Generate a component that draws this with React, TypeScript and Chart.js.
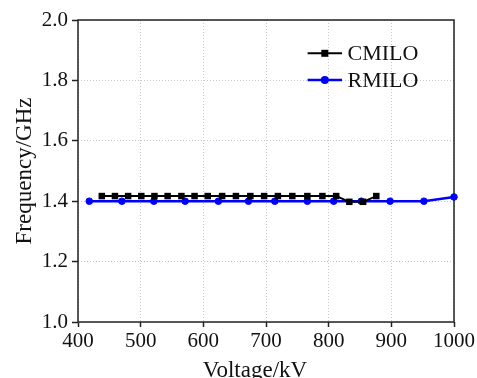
import React, { useEffect, useRef } from 'react';
import { Chart, registerables } from 'chart.js';

Chart.register(...registerables);

// CMILO series (black squares)
const cmiloVoltage = [438, 459, 480, 501, 522, 543, 565, 586, 607, 630, 652, 675, 697, 719, 742, 766, 790, 812, 833, 855, 876];
const cmiloFrequency = [1.417, 1.417, 1.417, 1.417, 1.417, 1.417, 1.417, 1.417, 1.417, 1.417, 1.417, 1.417, 1.417, 1.417, 1.417, 1.417, 1.417, 1.417, 1.398, 1.398, 1.417];

// RMILO series (blue circles)
const rmiloVoltage = [418, 470, 521, 571, 624, 672, 714, 766, 808, 852, 898, 952, 1000];
const rmiloFrequency = [1.4, 1.4, 1.4, 1.4, 1.4, 1.4, 1.4, 1.4, 1.4, 1.4, 1.4, 1.4, 1.414];

const seriesLabels = ['CMILO', 'RMILO'];
const xRange = [400, 1000];
const xStep = 100;
const yRange = [1.0, 2.0];
const yStep = 0.2;
const xTitle = 'Voltage/kV';
const yTitle = 'Frequency/GHz';

const FONT = '"Liberation Serif", "Times New Roman", serif';

const decorPlugin = {
  id: 'decor',
  beforeDatasetsDraw(chart: any) {
    const { ctx, chartArea: a } = chart;
    ctx.save();
    ctx.strokeStyle = '#222';
    ctx.lineWidth = 1.5;
    ctx.strokeRect(a.left, a.top, a.right - a.left, a.bottom - a.top);
    ctx.restore();
  },
  afterDraw(chart: any) {
    const { ctx, chartArea: a } = chart;
    ctx.save();
    // axis titles
    ctx.fillStyle = '#111';
    ctx.font = `23px ${FONT}`;
    ctx.textAlign = 'center';
    ctx.textBaseline = 'middle';
    ctx.fillText(xTitle, (a.left + a.right) / 2 - 11, 371);
    ctx.save();
    ctx.translate(25, (a.top + a.bottom) / 2);
    ctx.rotate(-Math.PI / 2);
    ctx.fillText(yTitle, 0, 0);
    ctx.restore();

    // legend
    chart.data.datasets.forEach((ds: any, i: number) => {
      const y = a.top + 33.3 + i * 26.7;
      const x0 = a.left + 229.6;
      const x1 = a.left + 264;
      ctx.strokeStyle = ds.borderColor;
      ctx.lineWidth = ds.borderWidth;
      ctx.beginPath();
      ctx.moveTo(x0, y);
      ctx.lineTo(x1, y);
      ctx.stroke();
      const cx = (x0 + x1) / 2;
      ctx.fillStyle = ds.backgroundColor;
      if (ds.pointStyle === 'rect') {
        ctx.fillRect(cx - 3.5, y - 3.5, 7, 7);
      } else {
        ctx.beginPath();
        ctx.arc(cx, y, 4, 0, Math.PI * 2);
        ctx.fill();
      }
      ctx.fillStyle = '#111';
      ctx.font = `22px ${FONT}`;
      ctx.textAlign = 'left';
      ctx.textBaseline = 'middle';
      ctx.fillText(ds.label, a.left + 269.5, y + 1);
    });
    ctx.restore();
  },
};

export default function App() {
  const ref = useRef<HTMLCanvasElement>(null);
  useEffect(() => {
    if (!ref.current) return;
    const chart = new Chart(ref.current, {
      type: 'line',
      data: {
        datasets: [
          {
            label: seriesLabels[0],
            data: cmiloVoltage.map((v, i) => ({ x: v, y: cmiloFrequency[i] })),
            borderColor: '#000000',
            backgroundColor: '#000000',
            borderWidth: 2,
            pointStyle: 'rect',
            pointRadius: 4.6,
            pointBorderWidth: 0,
            tension: 0,
            clip: false,
          } as any,
          {
            label: seriesLabels[1],
            data: rmiloVoltage.map((v, i) => ({ x: v, y: rmiloFrequency[i] })),
            borderColor: '#0000ff',
            backgroundColor: '#0000ff',
            borderWidth: 2.5,
            pointStyle: 'circle',
            pointRadius: 3.3,
            pointBorderWidth: 1,
            tension: 0,
            clip: false,
          } as any,
        ],
      },
      options: {
        animation: false,
        responsive: false,
        devicePixelRatio: 1,
        layout: { padding: { left: 0, right: 23, top: 20, bottom: 0 } },
        plugins: { legend: { display: false }, tooltip: { enabled: false } },
        scales: {
          x: {
            type: 'linear',
            min: xRange[0],
            max: xRange[1],
            afterFit: (s: any) => { s.height = 56; },
            ticks: {
              stepSize: xStep,
              color: '#111',
              font: { family: FONT, size: 21 },
              padding: 2,
              maxRotation: 0,
              callback: (v: any) => String(v),
            },
            grid: {
              color: '#c8c8c8',
              lineWidth: 1,
              tickLength: 5,
              tickColor: '#222',
              tickBorderDash: [],
              tickWidth: 1.5,
            } as any,
            border: { display: false, dash: [1, 2] },
          },
          y: {
            type: 'linear',
            min: yRange[0],
            max: yRange[1],
            afterFit: (s: any) => { s.width = 78; },
            ticks: {
              stepSize: yStep,
              color: '#111',
              font: { family: FONT, size: 21 },
              padding: 4,
              callback: (v: any) => Number(v).toFixed(1),
            },
            grid: {
              color: '#c8c8c8',
              lineWidth: 1,
              tickLength: 6,
              tickColor: '#222',
              tickBorderDash: [],
              tickWidth: 1.5,
            } as any,
            border: { display: false, dash: [1, 2] },
          },
        },
      },
      plugins: [decorPlugin],
    });
    return () => chart.destroy();
  }, []);
  return (
    <div style={{ position: 'absolute', left: 0, top: 0, width: 477, height: 378, background: '#fff' }}>
      <canvas ref={ref} width={477} height={378} />
    </div>
  );
}
